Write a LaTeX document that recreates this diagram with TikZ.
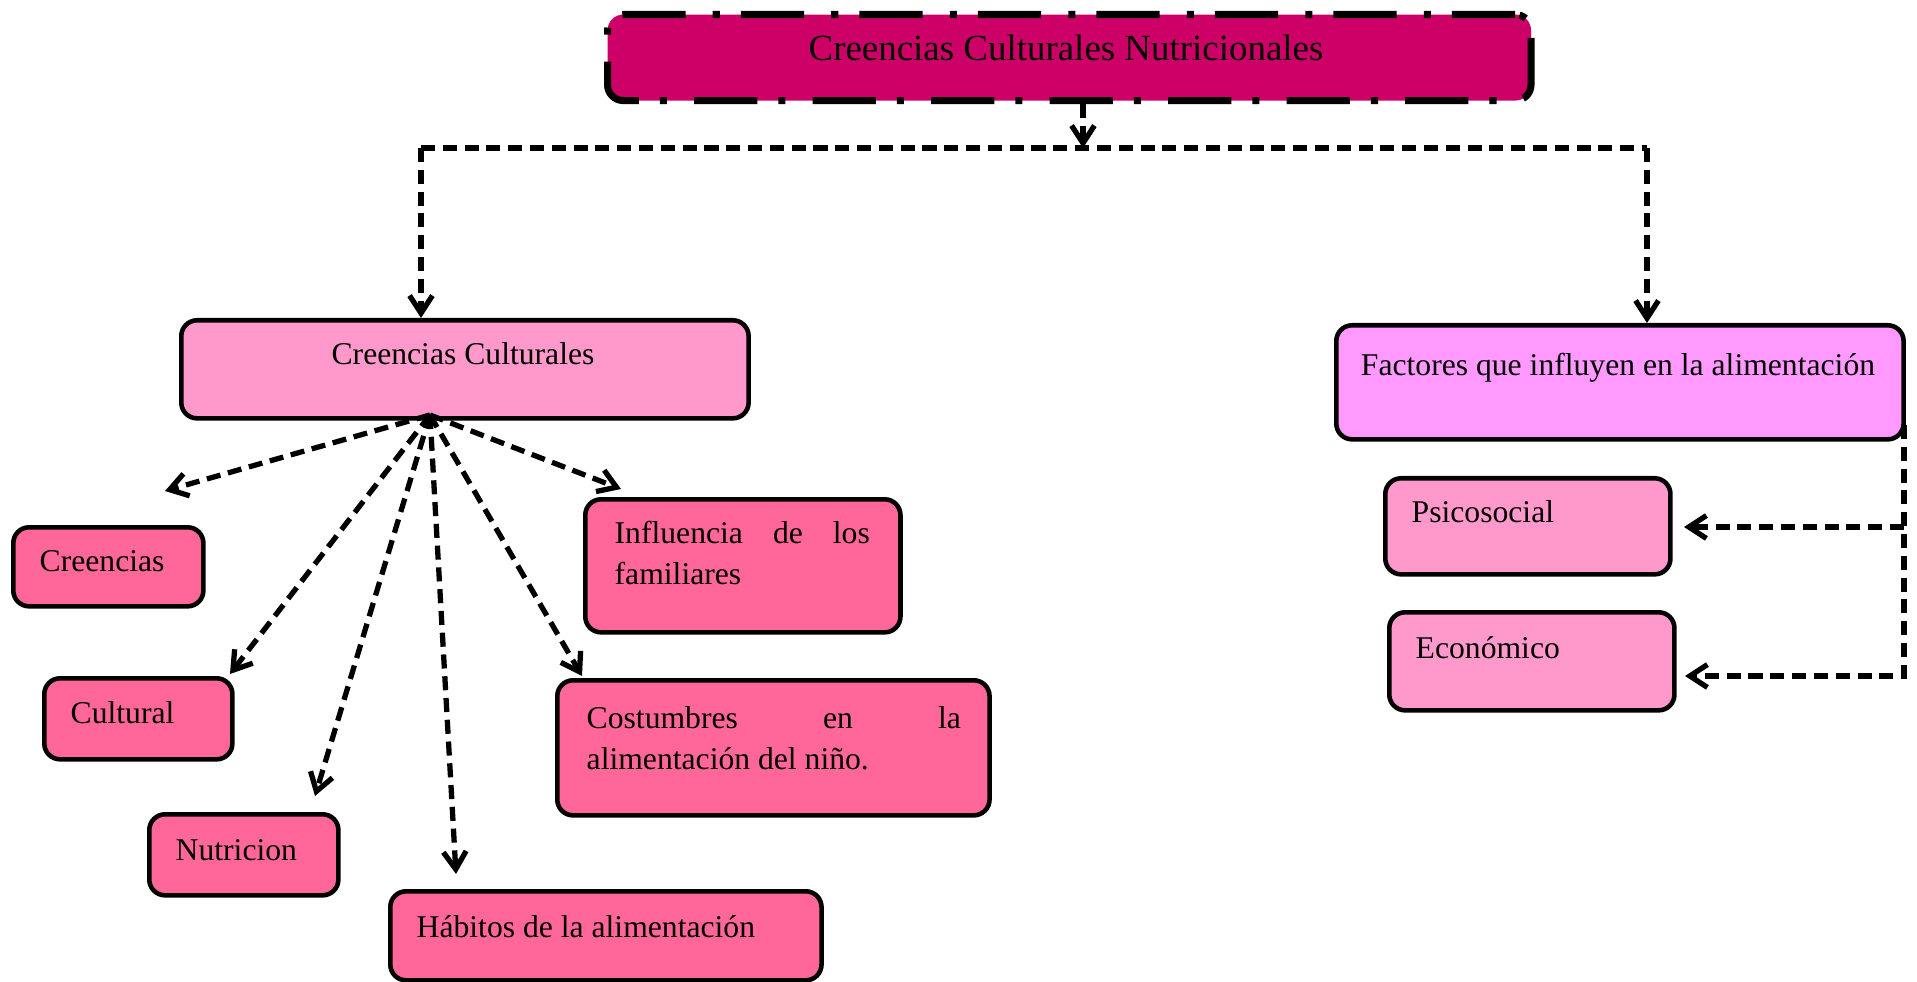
\documentclass[tikz,border=0pt]{standalone}
\usepackage{fontspec}
\setmainfont{Liberation Serif}
\usetikzlibrary{arrows.meta,calc}
\hyphenpenalty=10000
\definecolor{titlefill}{HTML}{CC0066}
\definecolor{lightpink}{HTML}{FF99CC}
\definecolor{violetpink}{HTML}{FF99FF}
\definecolor{hotpink}{HTML}{FF6699}
\begin{document}
\begin{tikzpicture}[x=0.01cm,y=-0.01cm,
  box/.style={draw=black, line width=1.3pt, rounded corners=4.5pt, anchor=north west, inner sep=0pt},
  titlebox/.style={box, line width=2pt, dash pattern=on 18pt off 6pt on 2pt off 7.7pt, fill=titlefill},
  txt/.style={inner sep=0pt, anchor=base west, font=\fontsize{9}{11.4}\selectfont},
  conn/.style={line width=1.5pt, dash pattern=on 4pt off 2.2pt},
  arr/.style={-{Straight Barb[length=5pt,width=6.5pt]}},
  ]
\useasboundingbox (0,0) rectangle (1917,982);

% boxes
\node[titlebox, minimum width=9.23cm, minimum height=0.86cm] (title) at (604,11) {};
\node[box, fill=lightpink, minimum width=5.67cm, minimum height=0.98cm] (cc) at (179,318) {};
\node[box, fill=violetpink, minimum width=5.67cm, minimum height=1.14cm] (fa) at (1334,323) {};
\node[box, fill=hotpink, minimum width=1.90cm, minimum height=0.79cm] (cre) at (11,525) {};
\node[box, fill=hotpink, minimum width=1.88cm, minimum height=0.81cm] (cul) at (42,676) {};
\node[box, fill=hotpink, minimum width=1.89cm, minimum height=0.81cm] (nut) at (147,812) {};
\node[box, fill=hotpink, minimum width=4.31cm, minimum height=0.89cm] (hab) at (388,889) {};
\node[box, fill=hotpink, minimum width=3.15cm, minimum height=1.33cm] (inf) at (583,497) {};
\node[box, fill=hotpink, minimum width=4.32cm, minimum height=1.35cm] (cos) at (555,678) {};
\node[box, fill=lightpink, minimum width=2.85cm, minimum height=0.96cm] (psi) at (1383,476) {};
\node[box, fill=lightpink, minimum width=2.85cm, minimum height=0.98cm] (eco) at (1387,610) {};

% texts
\node[txt, anchor=base, font=\fontsize{10.5}{12.6}\selectfont] (titlet) at (1066,61) {Creencias Culturales Nutricionales};
\node[txt, anchor=base] (cct) at (463,365) {Creencias Culturales};
\node[txt, anchor=base] (fat) at (1618,376) {Factores que influyen en la alimentación};
\node[txt] (cret) at (39,571) {Creencias};
\node[txt] (cult) at (70,723) {Cultural};
\node[txt] (nutt) at (175,860) {Nutricion};
\node[txt] (habt) at (416,937) {Hábitos de la alimentación};
\node[txt, text width=2.55cm, align=justify] (inft) at (614,544) {Influencia de los familiares};
\node[txt, text width=3.74cm, align=justify, font=\fontsize{9}{11.7}\selectfont] (cost) at (586,728) {Costumbres en la alimentación del niño.};
\node[txt] (psit) at (1411,522) {Psicosocial};
\node[txt] (ecot) at (1415,658) {Económico};

% connector points
\coordinate (j) at (1083,148);
\coordinate (jl) at (421,148);
\coordinate (jr) at (1647,148);
\coordinate (fan) at (430,415);
\coordinate (e1) at (165,491);
\coordinate (e2) at (230,674);
\coordinate (e3) at (315,796);
\coordinate (e4) at (456,874);
\coordinate (e5) at (621,489);
\coordinate (e6) at (582,676);
\coordinate (rv) at (1904,425);
\coordinate (pa) at (1684,527);
\coordinate (ea) at (1685,676);

% connectors
\draw[conn, arr] (title.south -| j) -- (j);
\draw[conn] (jl) -- (jr);
\draw[conn, arr] (jl) -- (jl |- cc.north);
\draw[conn, arr] (jr) -- (jr |- fa.north);
\foreach \e in {e1,e2,e3,e4,e5,e6}
  \draw[conn, arr] (fan) -- (\e);
\draw[conn, arr] (rv) -- (rv |- ea) -- (ea);
\draw[conn, arr] (rv |- pa) -- (pa);
\end{tikzpicture}
\end{document}
